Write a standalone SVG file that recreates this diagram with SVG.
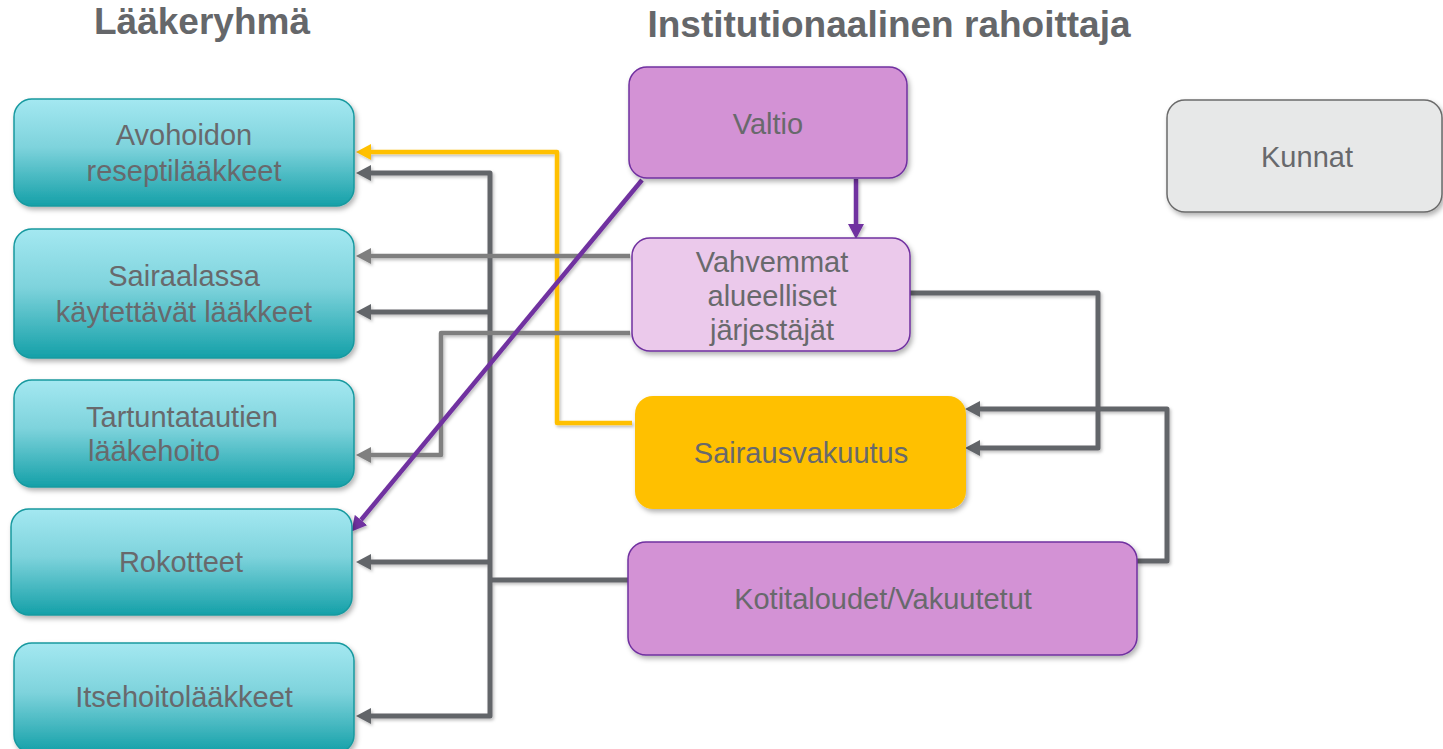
<svg xmlns="http://www.w3.org/2000/svg" width="1443" height="749" viewBox="0 0 1443 749">
<style>
.t{font-family:"Liberation Sans",Arial,sans-serif;font-size:29px;fill:#68696c;text-anchor:middle}
.h{font-family:"Liberation Sans",Arial,sans-serif;font-size:37px;font-weight:bold;fill:#65676a;text-anchor:middle}
.cy{fill:url(#cyg);stroke:#17999f;stroke-width:1.5}
.pu{fill:#d392d5;stroke:#7030a0;stroke-width:1.5}
.lp{fill:#ebc9eb;stroke:#7030a0;stroke-width:1.5}
.c{fill:none;stroke-linejoin:round}
.dk{stroke:#626569;stroke-width:5}
.lg{stroke:#7f7f7f;stroke-width:4.5}
.ye{stroke:#ffc000;stroke-width:4.5}
.pl{stroke:#7030a0;stroke-width:4.5}
</style>
<defs>
<linearGradient id="cyg" x1="0" y1="0" x2="0" y2="1">
<stop offset="0" stop-color="#a4e8f1"/>
<stop offset="0.45" stop-color="#7ed3dc"/>
<stop offset="1" stop-color="#14a0a8"/>
</linearGradient>
<filter id="sh" x="-10%" y="-10%" width="125%" height="135%">
<feDropShadow dx="2" dy="3" stdDeviation="2.5" flood-color="#000" flood-opacity="0.3"/>
</filter>
<filter id="ls" x="-5%" y="-5%" width="115%" height="115%">
<feDropShadow dx="1.5" dy="2" stdDeviation="1.5" flood-color="#000" flood-opacity="0.25"/>
</filter>
<marker id="ad" markerUnits="userSpaceOnUse" markerWidth="16" markerHeight="16" refX="0" refY="8" orient="auto" viewBox="0 0 16 16"><path d="M0,0 L15,8 L0,16 z" fill="#626569"/></marker>
<marker id="ag" markerUnits="userSpaceOnUse" markerWidth="16" markerHeight="16" refX="0" refY="8" orient="auto" viewBox="0 0 16 16"><path d="M0,0 L15,8 L0,16 z" fill="#7f7f7f"/></marker>
<marker id="ay" markerUnits="userSpaceOnUse" markerWidth="16" markerHeight="16" refX="0" refY="8" orient="auto" viewBox="0 0 16 16"><path d="M0,0 L15,8 L0,16 z" fill="#ffc000"/></marker>
<marker id="ap" markerUnits="userSpaceOnUse" markerWidth="16" markerHeight="16" refX="0" refY="8" orient="auto" viewBox="0 0 16 16"><path d="M0,0 L15,8 L0,16 z" fill="#7030a0"/></marker>
</defs>
<rect width="1443" height="749" fill="#fff"/>

<g id="titles">
<text class="h" x="202" y="34">Lääkeryhmä</text>
<text class="h" x="889" y="37">Institutionaalinen rahoittaja</text>
</g>

<g id="connectors" filter="url(#ls)">
<path class="c ye" d="M632,423 H557 V152 H371" marker-end="url(#ay)"/>
<path class="c dk" d="M628,580 H490" stroke-width="6"/>
<path class="c dk" d="M490,580 V173 H371" marker-end="url(#ad)"/>
<path class="c dk" d="M490,580 V716 H371" marker-end="url(#ad)"/>
<path class="c dk" d="M490,312 H371" marker-end="url(#ad)"/>
<path class="c dk" d="M490,562 H371" marker-end="url(#ad)"/>
<path class="c lg" d="M630,256 H371" marker-end="url(#ag)"/>
<path class="c lg" d="M630,333 H441 V455 H371" marker-end="url(#ag)"/>
<path class="c pl" d="M642,180 L361,520" marker-end="url(#ap)"/>
<path class="c pl" d="M856,179 V224" marker-end="url(#ap)"/>
<path class="c dk" d="M910,293 H1098 V448 H980" marker-end="url(#ad)"/>
<path class="c dk" d="M1137,561 H1167 V409 H980" marker-end="url(#ad)"/>
</g>

<g id="avohoidon">
<rect class="cy" x="14" y="99" width="340" height="107" rx="18" filter="url(#sh)"/>
<text class="t" x="184" y="145">Avohoidon</text>
<text class="t" x="184" y="181">reseptilääkkeet</text>
</g>
<g id="sairaalassa">
<rect class="cy" x="14" y="229" width="340" height="129" rx="18" filter="url(#sh)"/>
<text class="t" x="184" y="286">Sairaalassa</text>
<text class="t" x="184" y="322">käytettävät lääkkeet</text>
</g>
<g id="tartuntatautien">
<rect class="cy" x="14" y="380" width="340" height="107" rx="18" filter="url(#sh)"/>
<text class="t" x="86" y="427" text-anchor="start" style="text-anchor:start">Tartuntatautien</text>
<text class="t" x="88" y="461" style="text-anchor:start">lääkehoito</text>
</g>
<g id="rokotteet">
<rect class="cy" x="11" y="509" width="341" height="106" rx="18" filter="url(#sh)"/>
<text class="t" x="181" y="572">Rokotteet</text>
</g>
<g id="itsehoito">
<rect class="cy" x="14" y="643" width="340" height="110" rx="18" filter="url(#sh)"/>
<text class="t" x="184" y="707">Itsehoitolääkkeet</text>
</g>

<g id="valtio">
<rect class="pu" x="629" y="67" width="278" height="111" rx="18" filter="url(#sh)"/>
<text class="t" x="768" y="134">Valtio</text>
</g>
<g id="vahvemmat">
<rect class="lp" x="632" y="238" width="278" height="113" rx="18" filter="url(#sh)"/>
<text class="t" x="772" y="272">Vahvemmat</text>
<text class="t" x="772" y="306">alueelliset</text>
<text class="t" x="772" y="340">järjestäjät</text>
</g>
<g id="sairausvakuutus">
<rect x="635" y="396" width="331" height="113" rx="18" fill="#ffc000" filter="url(#sh)"/>
<text class="t" x="801" y="463">Sairausvakuutus</text>
</g>
<g id="kotitaloudet">
<rect class="pu" x="628" y="542" width="509" height="113" rx="18" filter="url(#sh)"/>
<text class="t" x="883" y="609">Kotitaloudet/Vakuutetut</text>
</g>
<g id="kunnat">
<rect x="1167" y="100" width="275" height="112" rx="18" fill="#e7e8e8" stroke="#6b6b6b" stroke-width="1.5" filter="url(#sh)"/>
<text class="t" x="1307" y="167">Kunnat</text>
</g>
</svg>
